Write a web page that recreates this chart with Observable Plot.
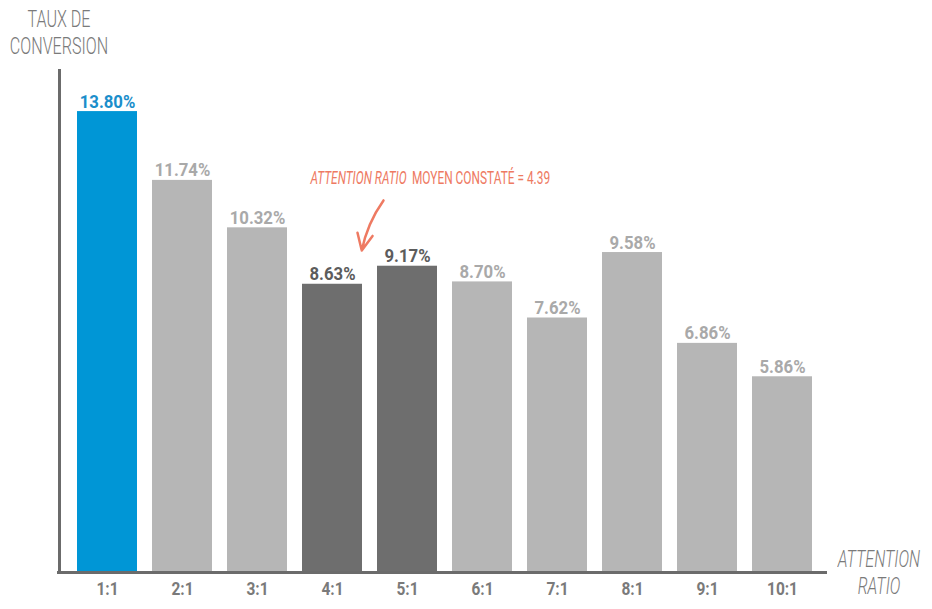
<!DOCTYPE html>
<html><head><meta charset="utf-8">
<script src="https://cdn.jsdelivr.net/npm/d3@7"></script>
<script src="https://cdn.jsdelivr.net/npm/@observablehq/plot@0.6"></script>
<style>
body{margin:0;background:#fff;}
#wrap{position:relative;width:932px;height:609px;overflow:hidden;background:#fff;}
.lbl{position:absolute;white-space:nowrap;font-family:Roboto,"DejaVu Sans",sans-serif;font-weight:300;color:#7a7a7a;}
</style></head><body><div id="wrap"></div>
<script>
const ratios = ["1:1","2:1","3:1","4:1","5:1","6:1","7:1","8:1","9:1","10:1"];
const ratioValues = [1, 2, 3, 4, 5, 6, 7, 8, 9, 10];
const conversion = [13.80, 11.74, 10.32, 8.63, 9.17, 8.70, 7.62, 9.58, 6.86, 5.86];
const groups = ["best","other","other","average","average","other","other","other","other","other"];
const averageRatio = 4.39;
const yTitle = ["TAUX DE", "CONVERSION"];
const xTitle = ["ATTENTION", "RATIO"];
const annotationItalic = "ATTENTION RATIO";
const annotationRest = "MOYEN CONSTATÉ = " + averageRatio;

const data = ratios.map((r, i) => ({ratio: r, pos: ratioValues[i], value: conversion[i], group: groups[i]}));
const xMin = 0.36, xMax = 10.6, yMax = 15.06, half = 0.4;
const labelFont = {fontSize: 18, fontWeight: "bold", fontFamily: "Roboto,'DejaVu Sans Condensed',sans-serif", lineAnchor: "bottom", dy: -4};
const fmt = d => d.value.toFixed(2) + "%";

const chart = Plot.plot({
  width: 932, height: 609,
  marginLeft: 59, marginRight: 105, marginTop: 69, marginBottom: 37,
  style: {background: "transparent", overflow: "visible"},
  x: {type: "linear", domain: [xMin, xMax], label: null},
  y: {domain: [0, yMax], axis: null},
  color: {domain: ["best", "other", "average"], range: ["#0096d6", "#b6b6b6", "#6e6e6e"]},
  marks: [
    Plot.rectY(data, {x1: d => d.pos - half, x2: d => d.pos + half, y: "value", fill: "group"}),
    Plot.ruleY([0], {stroke: "#6b6b6b", strokeWidth: 3, insetLeft: -2}),
    Plot.ruleX([xMin], {y1: 0, y2: yMax, stroke: "#6b6b6b", strokeWidth: 3}),
    Plot.text(data, {...labelFont, x: "pos", y: "value", text: fmt, fill: "#1b8ecb", filter: d => d.group === "best"}),
    Plot.text(data, {...labelFont, x: "pos", y: "value", text: fmt, fill: "#a9a9a9", filter: d => d.group === "other"}),
    Plot.text(data, {...labelFont, x: "pos", y: "value", text: fmt, fill: "#5c5c5c", filter: d => d.group === "average"}),
    Plot.axisX({ticks: ratioValues, tickFormat: v => ratios[ratioValues.indexOf(v)], tickSize: 0, tickPadding: 10, fontSize: 18, fontWeight: "bold", fill: "#7a7a7a", fontFamily: "Roboto,'DejaVu Sans Condensed',sans-serif", label: null}),
    Plot.arrow([{from: 4.68, to: averageRatio}], {x1: "from", y1: () => 11.14, x2: "to", y2: () => 9.64, stroke: "#ee7a62", strokeWidth: 2.5, bend: -12, headLength: 12, headAngle: 50})
  ]
});
const wrap = document.getElementById("wrap");
wrap.appendChild(chart);

// condense labels to mimic the narrow typeface of the original
function condense(sel, k) {
  d3.select(chart).selectAll(sel).each(function() {
    const w = this.getComputedTextLength();
    this.setAttribute("textLength", w * k);
    this.setAttribute("lengthAdjust", "spacingAndGlyphs");
  });
}
condense("g[aria-label='x-axis tick label'] text", 0.86);
condense("g[aria-label='text'] text", 0.93);

const xs = chart.scale("x"), ys = chart.scale("y");
const axisX = xs.apply(xMin);
const splitX = xs.apply(5.0);

function addDiv(html, css) {
  const d = document.createElement("div");
  d.className = "lbl";
  d.innerHTML = html;
  Object.assign(d.style, css);
  wrap.appendChild(d);
  return d;
}
addDiv(yTitle.join("<br>"), {left: (axisX - 100) + "px", top: "7px", width: "200px", textAlign: "center", fontSize: "23px", lineHeight: "26.5px", transform: "scaleX(0.70)", transformOrigin: "center top"});
addDiv(xTitle.join("<br>"), {left: "779px", top: "546px", width: "200px", textAlign: "center", fontSize: "23px", lineHeight: "27px", fontStyle: "italic", transform: "scaleX(0.70)", transformOrigin: "center top"});
const annTop = ys.apply(11.75) - 10.5;
addDiv(annotationItalic, {right: (932 - splitX) + "px", top: annTop + "px", fontSize: "18px", lineHeight: "18px", fontStyle: "italic", fontWeight: 400, color: "#ee7a62", transform: "scaleX(0.66)", transformOrigin: "right top"});
addDiv(annotationRest, {left: (splitX + 5) + "px", top: annTop + "px", fontSize: "18px", lineHeight: "18px", fontWeight: 400, color: "#ee7a62", transform: "scaleX(0.66)", transformOrigin: "left top"});
</script></body></html>
